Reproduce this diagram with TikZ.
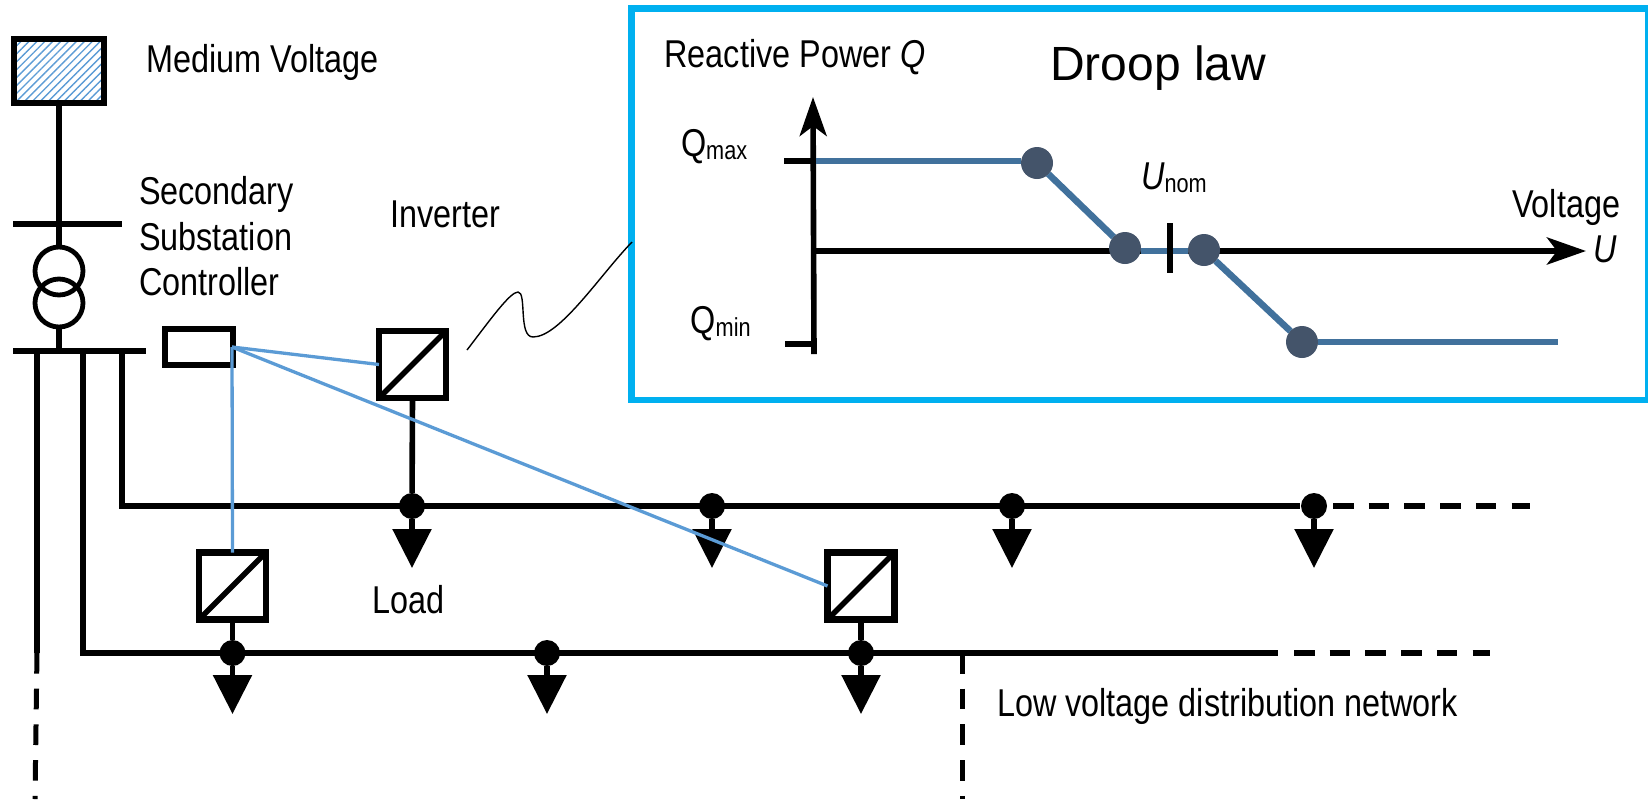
\documentclass[tikz,border=0pt]{standalone}
\usepackage{fontspec}
\setmainfont[FakeStretch=0.835]{Liberation Sans}
\newfontfamily\titlefont{Liberation Sans}
\usepackage{tikz}
\usetikzlibrary{arrows.meta,patterns.meta}
\definecolor{linkblue}{HTML}{5B9BD5}
\definecolor{boxblue}{HTML}{00B0F0}
\definecolor{lawblue}{HTML}{41719C}
\definecolor{dotblue}{HTML}{44546A}
\newcommand{\subtext}[1]{\raisebox{-1.5pt}{\fontsize{13}{13}\selectfont #1}}

\begin{document}
\begin{tikzpicture}
  [x=.5pt,y=-.5pt,line width=2.8pt,
   every node/.style={inner sep=0pt,outer sep=0pt},
   label/.style={anchor=base west,font=\fontsize{19.4}{22.75}\selectfont},
   inverter/.style={draw,rectangle,minimum size=33.5pt,line width=3.2pt},
   winding/.style={circle,draw,line width=2.4pt,minimum size=24pt},
   junction/.style={circle,fill=black,minimum size=13pt},
   lawdot/.style={circle,fill=dotblue,minimum size=16pt},
   load/.style={-{Triangle[length=19.5pt,width=19pt]}},
   dashdash/.style={dash pattern=on 10.3pt off 7.55pt},
   link/.style={linkblue,line width=1.65pt},
   law/.style={lawblue,line width=3.3pt},
   axis/.style={-{Stealth[length=19.5pt,width=13.5pt,inset=5pt]}}]
  \useasboundingbox (0,0) rectangle (1648,799);

  % substation
  \node[draw,rectangle,line width=3pt,minimum width=45pt,minimum height=32pt,
        pattern={Lines[angle=45,distance=2.8pt,line width=.7pt]},pattern color=linkblue] (MV) at (59,71) {};
  \coordinate (mvbarL) at (13,224);
  \coordinate (mvbarR) at (122,224);
  \coordinate (lvbarL) at (13,351);
  \coordinate (lvbarR) at (146,351);
  \node[winding] (T1) at (59,271) {};
  \node[winding] (T2) at (59,303) {};
  \coordinate (mvT) at (59,224);
  \coordinate (lvT) at (59,351);
  \draw (MV) -- (mvT);
  \draw (mvT) -- (T1);
  \draw (T2) -- (lvT);
  \draw (mvbarL) -- (mvbarR);
  \draw (lvbarL) -- (lvbarR);

  % feeders
  \coordinate (F1) at (37,351);
  \coordinate (F2) at (83,351);
  \coordinate (F3) at (122,351);
  \coordinate (F1end) at (37,653);
  \coordinate (F1dash) at (35,799);
  \coordinate (R1) at (1300,506);
  \coordinate (R1a) at (1333,506);
  \coordinate (R1b) at (1530,506);
  \coordinate (R2) at (1278,653);
  \coordinate (R2a) at (1294,653);
  \coordinate (R2b) at (1490,653);
  \coordinate (Btop) at (962,653);
  \coordinate (Bend) at (962,799);

  % controller and inverters
  \node[draw,rectangle,line width=3.2pt,minimum width=34pt,minimum height=18pt] (SSC) at (199,347) {};
  \coordinate (ctl) at (232,347);
  \node[inverter] (I1) at (412.5,364.5) {};
  \node[inverter] (I2) at (232.5,586) {};
  \node[inverter] (I3) at (861,586) {};
  \foreach \i in {1,2,3}
    \draw (I\i.south west) -- (I\i.north east);

  \draw (F1) -- (F1end);
  \draw[dashdash,line width=2.5pt] (F1end) -- (F1dash);
  \draw (F2) |- (R2);
  \draw (F3) |- (R1);
  \draw[dashdash] (R1a) -- (R1b);
  \draw[dashdash] (R2a) -- (R2b);
  \draw[dashdash,line width=2.5pt] (Btop) -- (Bend);

  % loads
  \foreach \i/\xx in {1/412,2/712,3/1012,4/1314} {
    \node[junction] (A\i) at (\xx,506) {};
    \coordinate (AL\i) at (\xx,568);
    \draw[load] (A\i) -- (AL\i);
  }
  \foreach \i/\xx in {1/232.5,2/547,3/861} {
    \node[junction] (B\i) at (\xx,653) {};
    \coordinate (BL\i) at (\xx,714);
    \draw[load] (B\i) -- (BL\i);
  }
  \draw (I1.south) -- (A1);
  \draw (I2.south) -- (B1);
  \draw (I3.south) -- (B3);

  \draw[link] (ctl) -- (I1.west);
  \draw[link] (ctl) -- (I2.north);
  \draw[link] (ctl) -- (I3.west);

  % labels
  \node[label] (mvtext) at (146.5,72) {Medium Voltage};
  \node[label,anchor=west,align=left] (ssctext) at (139,236.5) {Secondary\\Substation\\Controller};
  \node[label] (invtext) at (390,227) {Inverter};
  \node[label] (loadtext) at (372,613) {Load};
  \node[label] (lvtext) at (997,716) {Low voltage distribution network};

  % droop law
  \coordinate (boxA) at (631.5,8.5);
  \coordinate (boxB) at (1648.5,400);
  \draw[boxblue,line width=3.3pt] (boxA) rectangle (boxB);
  \coordinate (wA) at (467,350);
  \coordinate (wB) at (632,242);
  \draw[line width=.7pt] (wA) .. controls (490,320) and (510,292) .. (518,292)
     .. controls (527,292) and (518,337) .. (533,337) .. controls (560,337) and (600,275) .. (wB);

  \coordinate (yB) at (814,354);
  \coordinate (yT) at (813,97);
  \coordinate (xL) at (814,251);
  \coordinate (xR) at (1586,251);
  \coordinate (qmaxL) at (784,161);
  \coordinate (qmaxR) at (814,161);
  \coordinate (qminL) at (785,344);
  \coordinate (qminR) at (814,344);
  \coordinate (uT) at (1170,223);
  \coordinate (uB) at (1170,273);
  \coordinate (lawS) at (816,161);
  \coordinate (lawE) at (1558,342);

  \draw[axis] (yB) -- (yT);
  \draw[axis,line width=3pt] (xL) -- (xR);
  \draw (qmaxL) -- (qmaxR);
  \draw (qminL) -- (qminR);

  \node[lawdot] (P1) at (1037,163) {};
  \node[lawdot] (P2) at (1125,248) {};
  \node[lawdot] (P3) at (1204,250) {};
  \node[lawdot] (P4) at (1302,342) {};

  \draw[law] (lawS) -- (P1.west|-lawS);
  \draw[law] (P1) -- (P2);
  \draw[law] (P2.east|-xL) -- (P3.west|-xL);
  \draw[law] (P3) -- (P4);
  \draw[law] (P4) -- (lawE);
  \draw (uT) -- (uB);

  \node[label] (qtext) at (664.5,67) {Reactive Power \textit{Q}};
  \node[anchor=base west,font=\titlefont\fontsize{24}{24}\selectfont] (title) at (1050,80) {Droop law};
  \node[label] (qmaxtext) at (681,156) {Q\subtext{max}};
  \node[label] (qmintext) at (690.5,333) {Q\subtext{min}};
  \node[label] (unomtext) at (1141,189) {\textit{U}\subtext{nom}};
  \node[label] (volttext) at (1512,217) {Voltage};
  \node[label] (utext) at (1593,262) {\textit{U}};

\end{tikzpicture}
\end{document}
